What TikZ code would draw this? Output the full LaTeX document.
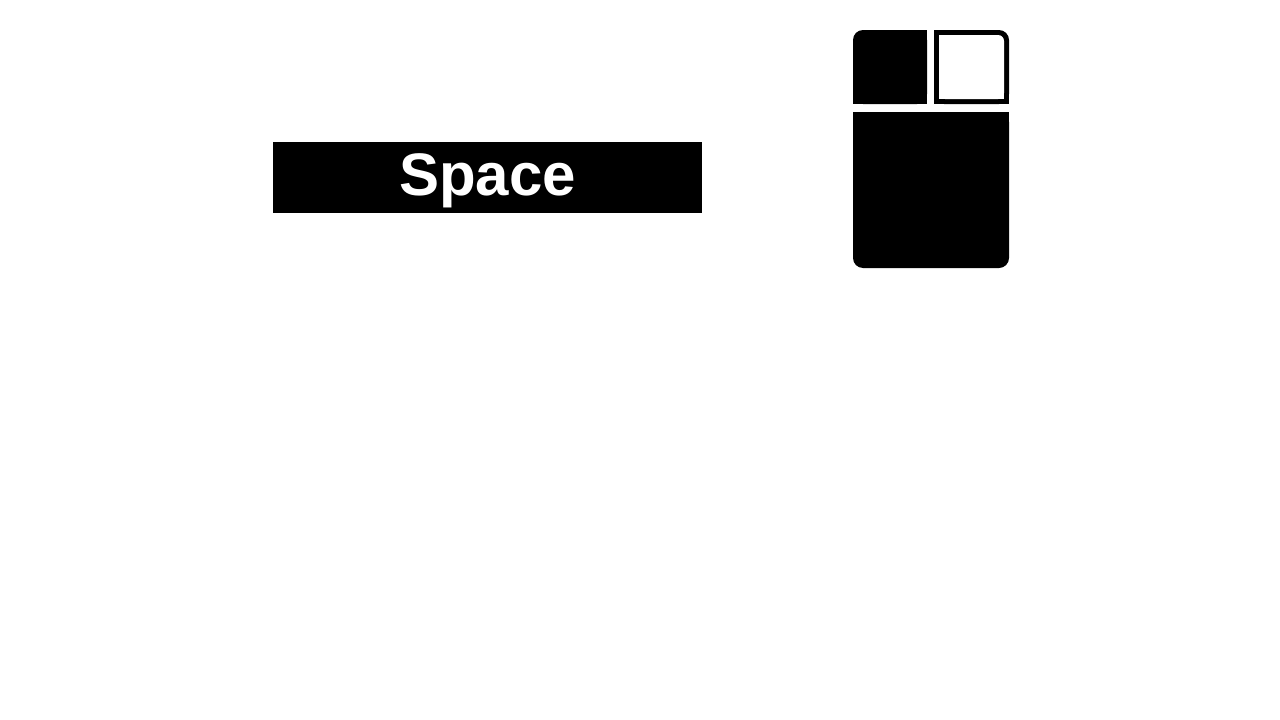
\documentclass[tikz,border=0pt]{standalone}
\usepackage{fontspec}
\setmainfont{Liberation Sans}
\begin{document}
\begin{tikzpicture}[x=1pt,y=-1pt,
  blk/.style={fill=black},
  lbl/.style={text=white,font=\fontsize{60}{72}\selectfont\bfseries,inner sep=0pt,anchor=base}]
\useasboundingbox (0,0) rectangle (1280,720);
% Space bar
\fill[blk] (273,142) rectangle (702,213);
\node[lbl] (space) at (487.5,195) {Space};
% mouse: left button
\fill[blk,rounded corners=10pt] (853,30) rectangle (927,104);
\fill[blk] (863,30) rectangle (927,104);
\fill[blk] (853,40) rectangle (927,104);
% right button (outlined)
\fill[blk,rounded corners=10pt] (934,30) rectangle (1009,104);
\fill[blk] (934,30) rectangle (999,104);
\fill[blk] (934,40) rectangle (1009,104);
\fill[white,rounded corners=6pt] (939,35) rectangle (1004,99);
\fill[white] (939,35) rectangle (996,99);
\fill[white] (939,43) rectangle (1004,99);
% body
\fill[blk,rounded corners=10pt] (853,112) rectangle (1009,268);
\fill[blk] (853,112) rectangle (1009,258);
\end{tikzpicture}
\end{document}
